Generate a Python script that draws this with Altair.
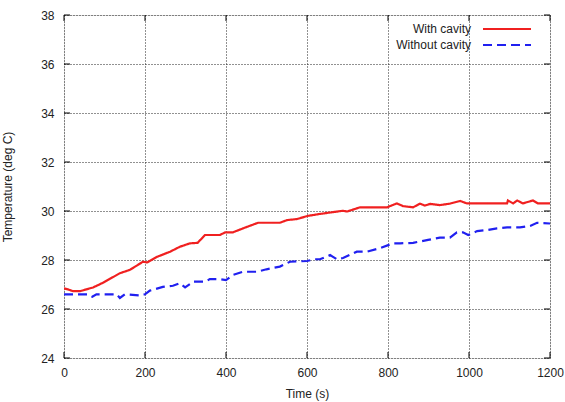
import altair as alt
import pandas as pd

# Temperature records (time in s, temperature in deg C)
with_t = [0, 10, 22, 40, 72, 96, 138, 163, 195, 205, 230, 262, 286, 311, 330, 348,
          385, 398, 417, 442, 479, 533, 551, 575, 602, 632, 689, 699, 731, 798, 805,
          822, 837, 862, 879, 891, 904, 928, 953, 978, 995, 1094, 1096, 1109, 1119,
          1133, 1158, 1170, 1200]
with_v = [26.84, 26.8, 26.73, 26.73, 26.88, 27.07, 27.46, 27.6, 27.93, 27.9, 28.13,
          28.34, 28.54, 28.68, 28.7, 29.02, 29.02, 29.13, 29.13, 29.29, 29.52, 29.52,
          29.63, 29.67, 29.8, 29.88, 30.01, 29.98, 30.15, 30.15, 30.2, 30.31, 30.2,
          30.15, 30.3, 30.22, 30.29, 30.24, 30.3, 30.41, 30.31, 30.31, 30.43, 30.31,
          30.43, 30.31, 30.43, 30.31, 30.31]

without_t = [0, 60, 70, 80, 130, 138, 150, 188, 200, 212, 244, 269, 286, 299, 320,
             350, 360, 385, 400, 417, 442, 477, 500, 533, 558, 600, 620, 632, 657,
             674, 689, 723, 748, 780, 812, 830, 862, 899, 928, 953, 970, 985, 998,
             1020, 1044, 1069, 1094, 1126, 1151, 1168, 1200]
without_v = [26.6, 26.6, 26.5, 26.6, 26.6, 26.45, 26.6, 26.55, 26.6, 26.75, 26.9,
             26.95, 27.05, 26.88, 27.12, 27.12, 27.22, 27.22, 27.18, 27.39, 27.52,
             27.52, 27.62, 27.73, 27.93, 27.96, 28.03, 28.03, 28.2, 28.03, 28.08,
             28.34, 28.34, 28.48, 28.68, 28.68, 28.7, 28.82, 28.91, 28.91, 29.13,
             29.13, 29.02, 29.18, 29.22, 29.29, 29.33, 29.33, 29.39, 29.52, 29.49]

series_names = ["With cavity", "Without cavity"]
series_colors = ["#f02020", "#2020f0"]

x_ticks = [0, 200, 400, 600, 800, 1000, 1200]
y_ticks = [24, 26, 28, 30, 32, 34, 36, 38]

W, H = 486, 343
FONT = "Liberation Sans"

df = pd.concat([
    pd.DataFrame({"t": with_t, "temp": with_v, "series": series_names[0]}),
    pd.DataFrame({"t": without_t, "temp": without_v, "series": series_names[1]}),
])

xs = alt.Scale(domain=[0, 1200], nice=False)
ys = alt.Scale(domain=[24, 38], nice=False)

axis_text = dict(labelFont=FONT, labelFontSize=12, labelColor="#222",
                 titleFont=FONT, titleFontSize=12, titleColor="#222",
                 titleFontWeight="normal", grid=True, ticks=False, domain=False,
                 gridColor="#222", gridDash=[1, 2], gridWidth=1, format="d",
                 labelFlush=False, labelOverlap=False)

x_axis = alt.Axis(values=x_ticks, title="Time (s)", labelPadding=9, titlePadding=10,
                  **axis_text)
y_axis = alt.Axis(values=y_ticks, title="Temperature (deg C)", labelPadding=10,
                  titlePadding=26, **axis_text)

lines = alt.Chart(df).mark_line(strokeWidth=2.2, clip=True).encode(
    x=alt.X("t:Q", scale=xs, axis=x_axis),
    y=alt.Y("temp:Q", scale=ys, axis=y_axis),
    color=alt.Color("series:N", scale=alt.Scale(domain=series_names, range=series_colors),
                    legend=None),
    strokeDash=alt.StrokeDash("series:N",
                              scale=alt.Scale(domain=series_names, range=[[1, 0], [9, 5]]),
                              legend=None),
    detail="series:N",
)

# Inward tick marks on all four borders
xt = pd.DataFrame({"t": x_ticks})
yt = pd.DataFrame({"temp": y_ticks})
tick_style = dict(color="black", strokeWidth=1)
xb = alt.Chart(xt).mark_rule(**tick_style).encode(
    x=alt.X("t:Q", scale=xs), y=alt.value(H), y2=alt.value(H - 6))
xtop = alt.Chart(xt).mark_rule(**tick_style).encode(
    x=alt.X("t:Q", scale=xs), y=alt.value(0), y2=alt.value(6))
yl = alt.Chart(yt).mark_rule(**tick_style).encode(
    y=alt.Y("temp:Q", scale=ys), x=alt.value(0), x2=alt.value(6))
yr = alt.Chart(yt).mark_rule(**tick_style).encode(
    y=alt.Y("temp:Q", scale=ys), x=alt.value(W), x2=alt.value(W - 6))

# Key in the upper right corner
key_text = alt.Chart(pd.DataFrame({"series": series_names, "ypos": [14, 30]})).mark_text(
    align="right", baseline="middle", font=FONT, fontSize=12, color="#222"
).encode(text="series:N", x=alt.value(407), y=alt.Y("ypos:Q", scale=None, axis=None))
key_line_red = alt.Chart(pd.DataFrame({"series": [series_names[0]]})).mark_rule(
    strokeWidth=2.2, color=series_colors[0]
).encode(x=alt.value(419), x2=alt.value(467), y=alt.value(14), detail="series:N")
key_line_blue = alt.Chart(pd.DataFrame({"series": [series_names[1]]})).mark_rule(
    strokeWidth=2.2, color=series_colors[1], strokeDash=[9, 5]
).encode(x=alt.value(419), x2=alt.value(467), y=alt.value(30), detail="series:N")

chart = alt.layer(lines, xb, xtop, yl, yr, key_text, key_line_red, key_line_blue).properties(
    width=W, height=H,
    autosize=alt.AutoSizeParams(type="none"),
    padding={"left": 64, "top": 15, "right": 15, "bottom": 44},
).configure_view(
    stroke="black", strokeWidth=1
).configure(background="white")

chart.save("out.html", embed_options={"renderer": "svg", "actions": False})
